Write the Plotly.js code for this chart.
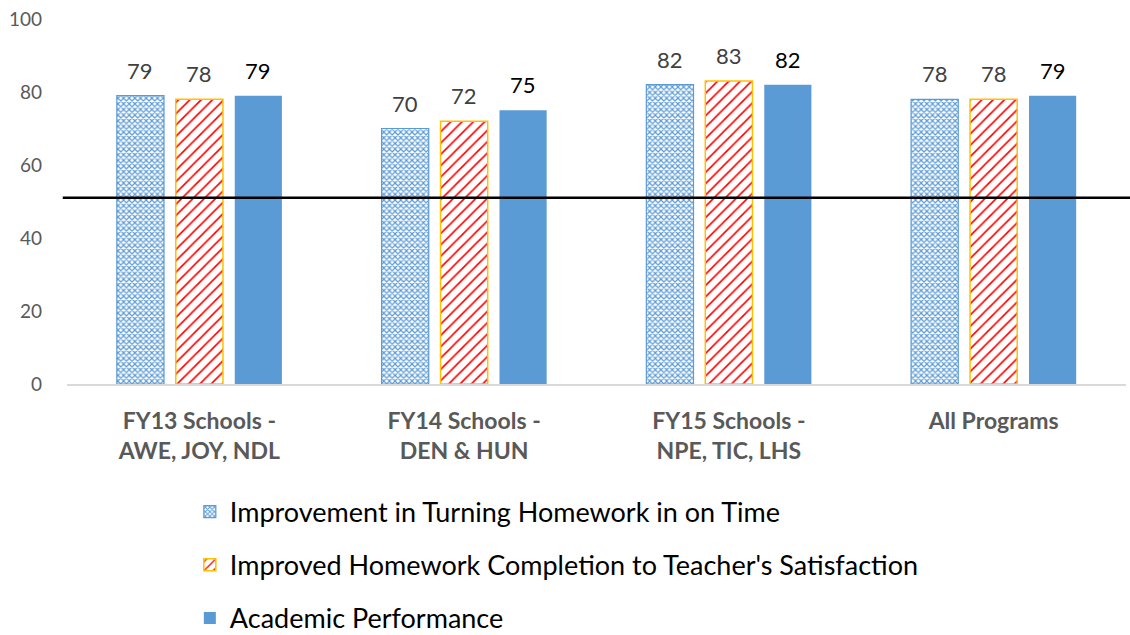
<!DOCTYPE html>
<html><head><meta charset="utf-8">
<script src="https://cdn.plot.ly/plotly-3.0.1.min.js"></script>
<style>body{margin:0;background:#fff}#c{width:1130px;height:635px}</style>
</head><body><div id="c"></div>
<script>
const categories = ["FY13 Schools -<br>AWE, JOY, NDL","FY14 Schools -<br>DEN & HUN","FY15 Schools -<br>NPE, TIC, LHS","All Programs"];
const seriesNames = ["Improvement in Turning Homework in on Time","Improved Homework Completion to Teacher's Satisfaction","Academic Performance"];
const homeworkOnTime = [79,70,82,78];
const teacherSatisfaction = [78,72,83,78];
const academicPerformance = [79,75,82,79];
const thresholdValue = 51;
const yTicks = [0,20,40,60,80,100];

const font = "Lato, 'Open Sans', sans-serif";
const blue = "#5b9bd5";
const bargap = 0.332;
const series = [homeworkOnTime, teacherSatisfaction, academicPerformance];
const labelColors = ["#404040","#404040","#000000"];

const traces = [
 {type:"bar", name:seriesNames[0], x:categories, y:homeworkOnTime, legendgroup:"a",
  marker:{color:"white", line:{color:blue,width:1.2}, pattern:{shape:"x", fgcolor:blue, bgcolor:"white", size:4, solidity:0.5}}},
 {type:"bar", name:seriesNames[1], x:categories, y:teacherSatisfaction, legendgroup:"b",
  marker:{color:"white", line:{color:"#ffc000",width:1.5}, pattern:{shape:"/", fgcolor:"#ff0000", bgcolor:"white", size:8, solidity:0.2}}},
 {type:"bar", name:seriesNames[2], x:categories, y:academicPerformance, legendgroup:"c",
  marker:{color:blue, line:{width:0}}}
];

// data labels placed on the bars' own category/value coordinates
const slot = (1 - bargap) / series.length;
const annotations = [];
series.forEach((vals, s) => {
  vals.forEach((v, i) => {
    annotations.push({xref:"x", yref:"y", x: i + (s - (series.length - 1) / 2) * slot, y: v,
      text: String(v), showarrow:false, yanchor:"bottom", yshift:10,
      font:{size:22, color:labelColors[s], family:font}});
  });
});

const layout = {
 width:1130, height:635, paper_bgcolor:"white", plot_bgcolor:"white",
 margin:{l:67,r:4,t:19,b:251,autoexpand:false},
 font:{family:font,color:"#595959"},
 barmode:"group", bargap:bargap, bargroupgap:0.2,
 showlegend:true,
 legend:{orientation:"v", x:0.116, xanchor:"left", y:-0.284, yanchor:"top", font:{size:27,color:"#000000",family:font}, tracegroupgap:15, traceorder:"grouped"},
 xaxis:{showline:true, linecolor:"#d9d9d9", linewidth:1.5, ticks:"", tickfont:{size:23,color:"#595959",family:font, weight:"bold"}, ticklabelstandoff:16, fixedrange:true, automargin:false},
 yaxis:{range:[0,100], tickvals:yTicks, showgrid:false, zeroline:false, showline:false, ticks:"", tickfont:{size:19,color:"#595959",family:font}, ticklabelstandoff:24, automargin:false},
 annotations: annotations,
 shapes:[{type:"line", xref:"paper", yref:"y", x0:-0.004, x1:1.004, y0:thresholdValue, y1:thresholdValue, line:{color:"#000000",width:2.5}}]
};
Plotly.newPlot("c", traces, layout, {displayModeBar:false, staticPlot:true});
</script></body></html>
